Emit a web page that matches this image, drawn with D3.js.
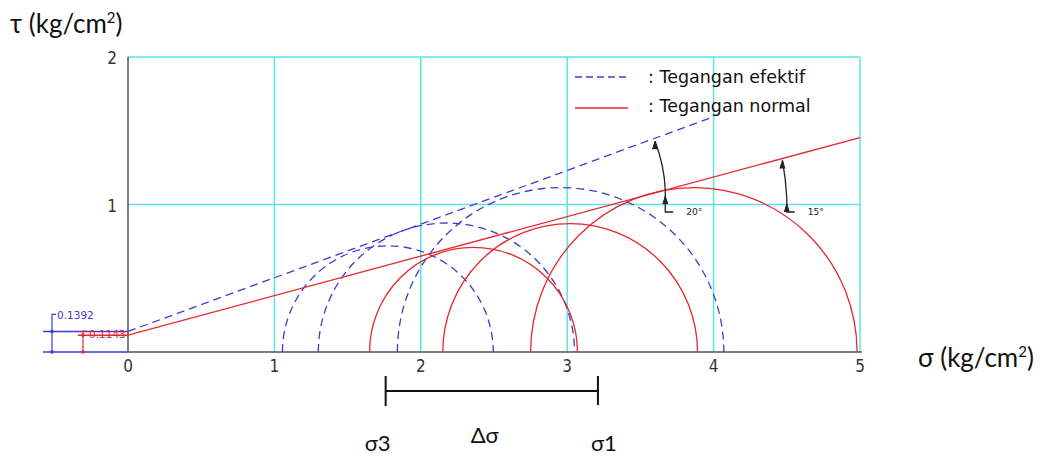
<!DOCTYPE html>
<html>
<head>
<meta charset="utf-8">
<script src="https://cdn.jsdelivr.net/npm/d3@7"></script>
<style>
  body { margin: 0; background: #fff; }
  .tick-label { font-family: "Liberation Sans Narrow", "DejaVu Sans Condensed", sans-serif; font-size: 17px; fill: #333; }
  .big { font-family: "Lato", "Open Sans", sans-serif; font-size: 22px; fill: #111; }
  .title { font-family: "Lato", "Open Sans", sans-serif; font-size: 26px; fill: #111; }
  .legend { font-family: "DejaVu Sans", sans-serif; font-size: 17.5px; fill: #111; }
</style>
</head>
<body>
<svg id="chart" width="1051" height="457"></svg>
<script>
// Mohr circles: total (normal) stress and effective stress, kg/cm2
var sigma3Total = [1.65, 2.15, 2.75];
var sigma1Total = [3.07, 3.89, 4.98];
var sigma3Eff = [1.055, 1.30, 1.84];
var sigma1Eff = [2.495, 3.05, 4.07];

// failure envelopes: cohesion and friction angle
var cTotal = 0.1143, phiTotal = 15;
var cEff = 0.1392, phiEff = 20;

var xTicks = [0, 1, 2, 3, 4, 5];
var yTicks = [1, 2];

var blue = "#3c3cd2", red = "#e8262d", cyan = "#5de4e4";

var svg = d3.select("#chart");
var x = d3.scaleLinear().domain([0, 5]).range([128, 860]);
var y = d3.scaleLinear().domain([0, 2]).range([352, 57]);

// grid
svg.append("g").selectAll("line")
  .data(xTicks.filter(d => d > 0))
  .enter().append("line")
  .attr("x1", d => x(d)).attr("x2", d => x(d))
  .attr("y1", y(0)).attr("y2", y(2))
  .style("stroke", cyan).style("stroke-width", 1.5);
svg.append("g").selectAll("line")
  .data(yTicks)
  .enter().append("line")
  .attr("x1", x(0)).attr("x2", x(5))
  .attr("y1", d => y(d)).attr("y2", d => y(d))
  .style("stroke", cyan).style("stroke-width", 1.5);

// axes
svg.append("line").attr("x1", x(0)).attr("x2", x(5) + 2).attr("y1", y(0)).attr("y2", y(0))
  .style("stroke", "#555").style("stroke-width", 1.5);
svg.append("line").attr("x1", x(0)).attr("x2", x(0)).attr("y1", y(0)).attr("y2", y(2))
  .style("stroke", "#555").style("stroke-width", 1.5);

svg.append("g").selectAll("text")
  .data(xTicks)
  .enter().append("text")
  .attr("class", "tick-label")
  .attr("x", d => x(d))
  .attr("y", y(0) + 20)
  .attr("text-anchor", "middle")
  .text(d => d);
svg.append("g").selectAll("text")
  .data(yTicks)
  .enter().append("text")
  .attr("class", "tick-label")
  .attr("x", x(0) - 11)
  .attr("y", d => y(d) + 7)
  .attr("text-anchor", "end")
  .text(d => d);

// semicircle path from sigma3 to sigma1
function mohr(s3, s1) {
  var rx = (x(s1) - x(s3)) / 2;
  var ry = (y(0) - y((s1 - s3) / 2));
  return "M" + x(s3) + "," + y(0) + " A" + rx + "," + ry + " 0 0 1 " + x(s1) + "," + y(0);
}

svg.append("g").selectAll("path")
  .data(d3.zip(sigma3Eff, sigma1Eff))
  .enter().append("path")
  .attr("d", d => mohr(d[0], d[1]))
  .style("fill", "none").style("stroke", blue).style("stroke-width", 1.3)
  .style("stroke-dasharray", "8,5");

svg.append("g").selectAll("path")
  .data(d3.zip(sigma3Total, sigma1Total))
  .enter().append("path")
  .attr("d", d => mohr(d[0], d[1]))
  .style("fill", "none").style("stroke", red).style("stroke-width", 1.3);

// envelopes
var tanE = Math.tan(phiEff * Math.PI / 180), tanT = Math.tan(phiTotal * Math.PI / 180);
svg.append("line")
  .attr("x1", x(0)).attr("y1", y(cEff))
  .attr("x2", x(4.0)).attr("y2", y(cEff + tanE * 4.0))
  .style("stroke", blue).style("stroke-width", 1.3).style("stroke-dasharray", "8,5");
svg.append("line")
  .attr("x1", x(0)).attr("y1", y(cTotal))
  .attr("x2", x(5)).attr("y2", y(cTotal + tanT * 5))
  .style("stroke", red).style("stroke-width", 1.3);

// intercept dimensions on the left
svg.append("line").attr("x1", 43).attr("x2", x(0)).attr("y1", y(0)).attr("y2", y(0))
  .style("stroke", blue).style("stroke-width", 1.5);
svg.append("line").attr("x1", 43).attr("x2", x(0)).attr("y1", y(cEff)).attr("y2", y(cEff))
  .style("stroke", blue).style("stroke-width", 1.5);
svg.append("line").attr("x1", 78).attr("x2", x(0)).attr("y1", y(cTotal)).attr("y2", y(cTotal))
  .style("stroke", red).style("stroke-width", 1.5);
svg.append("path").attr("d", "M56," + (y(cEff) - 17) + " H52 V" + y(0))
  .style("fill", "none").style("stroke", blue).style("stroke-width", 1.2);
svg.append("path").attr("d", "M87," + (y(cTotal) - 4) + " H83 V" + y(0))
  .style("fill", "none").style("stroke", red).style("stroke-width", 1.2);
[[52, y(cEff), blue], [52, y(0), blue], [83, y(cTotal), red], [83, y(0), red]].forEach(function(p) {
  svg.append("circle").attr("cx", p[0]).attr("cy", p[1]).attr("r", 1.8).style("fill", p[2]);
});
svg.append("text").attr("x", 57).attr("y", y(cEff) - 12)
  .style("font-family", "DejaVu Sans, sans-serif").style("font-size", "10.5px").style("fill", blue)
  .text(cEff.toFixed(4));
svg.append("text").attr("x", 89).attr("y", y(cTotal) + 3)
  .style("font-family", "DejaVu Sans, sans-serif").style("font-size", "10.5px").style("fill", red)
  .text(cTotal.toFixed(4));

// angle marks
function angleMark(xs, yBase, top, label) {
  var xb = x(xs), yl = 212;
  var g = svg.append("g");
  g.append("path")
    .attr("d", "M" + xb + "," + yBase + " V" + yl + " H" + (xb + 8))
    .style("fill", "none").style("stroke", "#222").style("stroke-width", 1.3);
  g.append("path")
    .attr("d", "M" + xb + "," + yBase + " Q" + (xb - 1) + "," + ((yBase + top[1]) / 2) + " " + top[0] + "," + top[1])
    .style("fill", "none").style("stroke", "#222").style("stroke-width", 1.3);
  g.append("path")
    .attr("d", "M" + (top[0] - 2.5) + "," + (top[1] + 8) + " L" + top[0] + "," + top[1] + " L" + (top[0] + 2.5) + "," + (top[1] + 8))
    .style("fill", "#222").style("stroke", "#222").style("stroke-width", 1);
  g.append("path")
    .attr("d", "M" + (xb - 2.5) + "," + (yBase + 14) + " L" + xb + "," + (yBase + 6) + " L" + (xb + 2.5) + "," + (yBase + 14))
    .style("fill", "#222").style("stroke", "#222").style("stroke-width", 1);
  g.append("text").attr("x", xb + 21).attr("y", yl + 3)
    .style("font-family", "DejaVu Sans, sans-serif").style("font-size", "9px").style("fill", "#222")
    .text(label);
}
angleMark(3.67, y(cTotal + tanT * 3.67), [x(3.6), y(cEff + tanE * 3.6) + 3], phiEff + "°");
angleMark(4.5, 198, [x(4.47), y(cTotal + tanT * 4.47) + 2], phiTotal + "°");

// legend
svg.append("line").attr("x1", 575).attr("x2", 628).attr("y1", 77).attr("y2", 77)
  .style("stroke", blue).style("stroke-width", 1.3).style("stroke-dasharray", "7,4");
svg.append("line").attr("x1", 575).attr("x2", 628).attr("y1", 108).attr("y2", 108)
  .style("stroke", red).style("stroke-width", 1.3);
svg.append("text").attr("class", "legend").attr("x", 648).attr("y", 83).text(": Tegangan efektif");
svg.append("text").attr("class", "legend").attr("x", 648).attr("y", 112).text(": Tegangan normal");

// axis titles
var t1 = svg.append("text").attr("class", "title").attr("x", 10).attr("y", 33);
t1.append("tspan").text("τ (kg/cm");
t1.append("tspan").attr("dy", -10).style("font-size", "15px").text("2");
t1.append("tspan").attr("dy", 10).text(")");
var t2 = svg.append("text").attr("class", "title").attr("x", 918).attr("y", 367);
t2.append("tspan").text("σ (kg/cm");
t2.append("tspan").attr("dy", -10).style("font-size", "15px").text("2");
t2.append("tspan").attr("dy", 10).text(")");

// delta sigma bar
var barL = x(1.76), barR = x(3.21);
svg.append("path")
  .attr("d", "M" + barL + ",391 H" + barR + " M" + barL + ",376 V406 M" + barR + ",376 V405")
  .style("fill", "none").style("stroke", "#111").style("stroke-width", 2);
svg.append("text").attr("class", "big").attr("x", barL - 8).attr("y", 451).attr("text-anchor", "middle").text("σ3");
svg.append("text").attr("class", "big").attr("x", (barL + barR) / 2 - 7).attr("y", 443).attr("text-anchor", "middle").text("Δσ");
svg.append("text").attr("class", "big").attr("x", barR + 6).attr("y", 451).attr("text-anchor", "middle").text("σ1");
</script>
</body>
</html>
